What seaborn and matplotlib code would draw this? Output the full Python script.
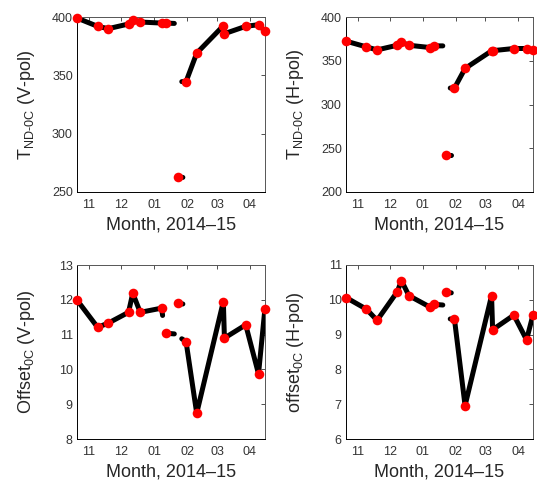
import pandas as pd
import matplotlib
matplotlib.use('Agg')
import matplotlib.pyplot as plt
import matplotlib.dates as mdates
import seaborn as sns

# Marker dates (same for all four panels)
marker_dates = ['2014-10-21', '2014-11-09', '2014-11-19', '2014-12-08', '2014-12-12',
                '2014-12-19', '2015-01-08', '2015-01-12', '2015-01-23', '2015-01-31',
                '2015-02-10', '2015-03-07', '2015-03-08', '2015-03-28', '2015-04-09',
                '2015-04-15']

# Line dates, split into segments (gaps in the record)
line_dates = ['2014-10-21', '2014-11-09', '2014-11-19', '2014-12-08', '2014-12-12',
              '2014-12-19', '2015-01-08', '2015-01-09',
              '2015-01-11', '2015-01-12', '2015-01-20',
              '2015-01-23', '2015-01-28',
              '2015-01-27', '2015-01-31', '2015-02-10', '2015-03-07', '2015-03-08',
              '2015-03-28', '2015-04-09', '2015-04-15']
line_segment = [0] * 8 + [1] * 3 + [2] * 2 + [3] * 8

# T_ND-0C, V-pol
tv_markers = [399, 392, 390, 394, 397.7, 395.7, 394.8, 394.8, 263, 344.6,
              369, 392.5, 385.7, 392, 393.4, 388]
tv_line = [399, 392, 390, 394, 397.7, 395.7, 394.8, 394.8,
           394.8, 394.8, 394.5,
           263, 262.5,
           344.6, 344.6, 369, 392.5, 385.7, 392, 393.4, 388]

# T_ND-0C, H-pol
th_markers = [372.3, 365.8, 362.4, 367.7, 371.2, 367.7, 365.1, 367, 242.5, 318.8,
              341.2, 361.3, 361.5, 364, 364, 362]
th_line = [372.3, 365.8, 362.4, 367.7, 371.2, 367.7, 365.1, 365.5,
           366.5, 367, 367,
           242.5, 242.5,
           318.8, 318.8, 341.2, 361.3, 361.5, 364, 364, 362]

# Offset_0C, V-pol
ov_markers = [11.98, 11.21, 11.33, 11.64, 12.19, 11.64, 11.76, 11.04, 11.90, 10.80,
              8.74, 11.95, 10.90, 11.28, 9.87, 11.74]
ov_line = [11.98, 11.21, 11.33, 11.64, 12.19, 11.64, 11.76, 11.55,
           11.04, 11.04, 11.02,
           11.90, 11.88,
           10.88, 10.80, 8.74, 11.95, 10.90, 11.28, 9.87, 11.74]

# Offset_0C, H-pol
oh_markers = [10.06, 9.73, 9.41, 10.23, 10.55, 10.12, 9.79, 9.87, 10.21, 9.44,
              6.96, 10.12, 9.14, 9.56, 8.85, 9.56]
oh_line = [10.06, 9.73, 9.41, 10.23, 10.55, 10.12, 9.79, 9.80,
           9.85, 9.87, 9.85,
           10.21, 10.20,
           9.45, 9.44, 6.96, 10.12, 9.14, 9.56, 8.85, 9.56]

panels = [
    (tv_line, tv_markers, r'T$_{\mathregular{ND\text{-}0C}}$ (V-pol)', (250, 400), [250, 300, 350, 400]),
    (th_line, th_markers, r'T$_{\mathregular{ND\text{-}0C}}$ (H-pol)', (200, 400), [200, 250, 300, 350, 400]),
    (ov_line, ov_markers, r'Offset$_{\mathregular{0C}}$ (V-pol)', (8, 13), [8, 9, 10, 11, 12, 13]),
    (oh_line, oh_markers, r'offset$_{\mathregular{0C}}$ (H-pol)', (6, 11), [6, 7, 8, 9, 10, 11]),
]

sns.set_style('white')
plt.rcParams['font.family'] = ['Liberation Sans', 'DejaVu Sans']
plt.rcParams['mathtext.fontset'] = 'custom'
plt.rcParams['mathtext.rm'] = 'Liberation Sans'

fig = plt.figure(figsize=(5.37, 4.83), dpi=100)
rects = [
    [77 / 537, 1 - 192 / 483, 188 / 537, 175 / 483],
    [346 / 537, 1 - 192 / 483, 187 / 537, 175 / 483],
    [77 / 537, 1 - 439 / 483, 188 / 537, 174 / 483],
    [346 / 537, 1 - 439 / 483, 187 / 537, 174 / 483],
]

xmin = pd.Timestamp('2014-10-20 16:00')
xmax = pd.Timestamp('2015-04-15 02:00')

for rect, (lvals, mvals, ylab, ylim, yticks) in zip(rects, panels):
    ax = fig.add_axes(rect)
    line_df = pd.DataFrame({'date': pd.to_datetime(line_dates), 'val': lvals, 'seg': line_segment})
    mark_df = pd.DataFrame({'date': pd.to_datetime(marker_dates), 'val': mvals})

    sns.lineplot(data=line_df, x='date', y='val', units='seg', estimator=None, sort=False,
                 color='black', linewidth=3.6, ax=ax, zorder=2)
    sns.scatterplot(data=mark_df, x='date', y='val', color='red', s=48, edgecolor='red',
                    linewidth=0, ax=ax, zorder=3, clip_on=False)

    ax.set_xlim(xmin, xmax)
    ax.set_ylim(*ylim)
    ax.set_yticks(yticks)
    ax.xaxis.set_major_locator(mdates.MonthLocator())
    ax.xaxis.set_major_formatter(mdates.DateFormatter('%m'))
    ax.tick_params(direction='in', top=True, right=True, length=3, width=0.6,
                   labelsize=9, labelcolor='#333333', color='#333333')
    ax.tick_params(axis='x', pad=5)
    ax.tick_params(axis='y', pad=3)
    for sp in ax.spines.values():
        sp.set_color('#555555')
        sp.set_linewidth(0.7)
    ax.spines['left'].set_color('black')
    ax.spines['bottom'].set_color('black')

    ax.set_xlabel('Month, 2014\u201315', fontsize=13, labelpad=4)
    ax.set_ylabel(ylab, fontsize=13)
    ax.yaxis.set_label_coords(-0.215, 0.5)

fig.savefig('out.png', dpi=100)
